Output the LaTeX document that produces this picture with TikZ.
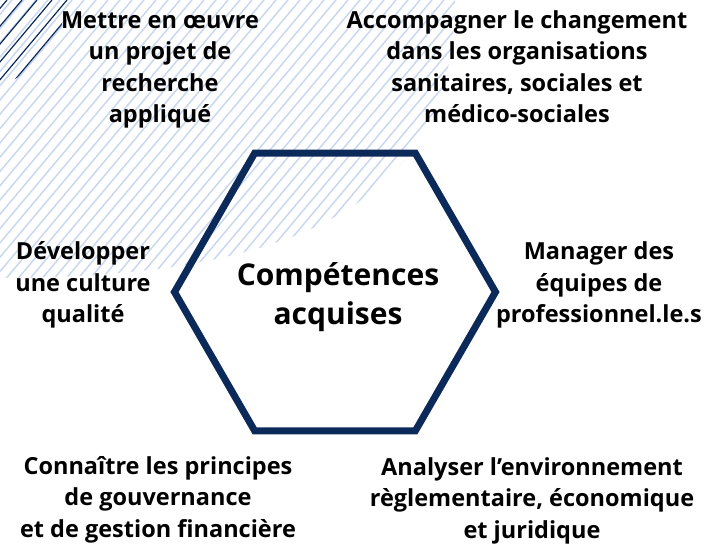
\documentclass[tikz,border=0pt]{standalone}
\usepackage{fontspec}
\setmainfont{Open Sans}
\usetikzlibrary{shapes.geometric}

\definecolor{navy}{HTML}{0B2A5A}
\definecolor{hatchblue}{HTML}{C9D8EE}

\tikzset{
  skill/.style={align=center, inner sep=0pt, anchor=base,
    font=\fontsize{23.5}{31.5}\selectfont\bfseries},
  hexa/.style={regular polygon, regular polygon sides=6, draw=navy,
    line width=7pt, minimum size=321pt, inner sep=0pt},
  title/.style={align=center, inner sep=0pt,
    font=\fontsize{30}{39}\selectfont\bfseries},
}

\begin{document}
\begin{tikzpicture}[x=1pt, y=-1pt]
  \useasboundingbox (0,0) rectangle (707,545);

  % light hatching, top left
  \begin{scope}
    \clip (0,0) -- (455,0) .. controls (455,200) and (300,278) .. (0,278) -- cycle;
    \foreach \a in {0,12,...,790} {
      \draw[hatchblue, line width=1.5pt] (\a,0) -- ++(-252,300);
    }
  \end{scope}
  % dark lines in the corner
  \begin{scope}
    \clip (0,0) -- (68,0) .. controls (62,45) and (30,75) .. (0,86) -- cycle;
    \foreach \a in {7,22,...,180} {
      \draw[navy, line width=1.2pt] (\a,0) -- ++(-252,300);
    }
  \end{scope}

  \node[hexa] (hex) at (335,292) {};
  \node[title] (competences) at (338,297) {Compétences\\acquises};

  % anchor=base sits on the last line
  \node[skill] (projet) at (160,123) {Mettre en œuvre\\un projet de\\recherche\\appliqué};
  \node[skill] (changement) at (517,123) {Accompagner le changement\\dans les organisations\\sanitaires, sociales et\\médico-sociales};
  \node[skill] (qualite) at (83,323) {Développer\\une culture\\qualité};
  \node[skill] (equipes) at (599,323) {Manager des\\équipes de\\professionnel.le.s};
  \node[skill] (gouvernance) at (158,537) {Connaître les principes\\de gouvernance\\et de gestion financière};
  \node[skill] (environnement) at (532,538) {Analyser l’environnement\\règlementaire, économique\\et juridique};
\end{tikzpicture}
\end{document}
